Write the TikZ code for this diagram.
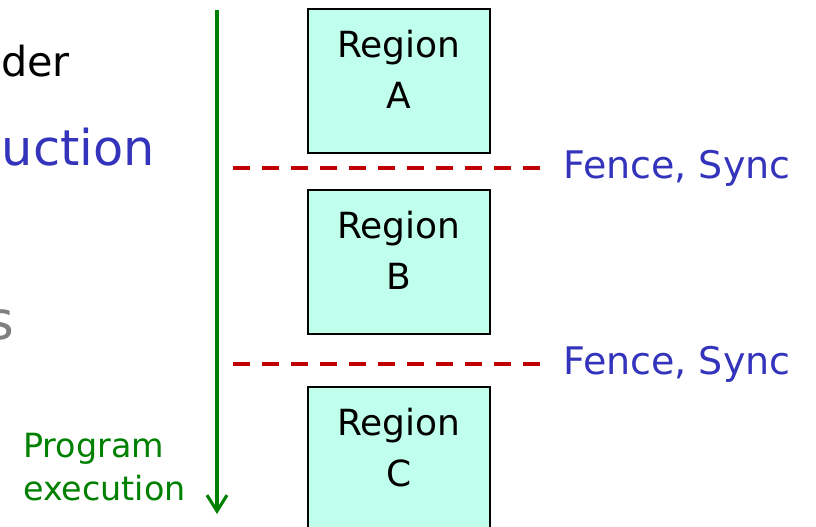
\documentclass[tikz,border=0pt]{standalone}
\usepackage{fontspec}
\setmainfont{DejaVu Sans}
\usetikzlibrary{arrows.meta}
\definecolor{fenceblue}{RGB}{51,51,187}
\definecolor{progreen}{RGB}{0,128,0}
\definecolor{fencered}{RGB}{192,0,0}
\definecolor{regionfill}{RGB}{192,255,236}
\definecolor{dimgray}{RGB}{128,128,128}
\tikzset{
  regionbox/.style={draw=black, line width=1.2pt, fill=regionfill,
    minimum width=136.5pt, minimum height=108pt, inner sep=0pt},
  regiontext/.style={font=\fontsize{27}{38}\selectfont, align=center, inner sep=0pt},
  fenceline/.style={draw=fencered, line width=3.5pt, dash pattern=on 12.75pt off 9pt},
  fencelabel/.style={text=fenceblue, font=\fontsize{28.5}{34}\selectfont, anchor=base west, inner sep=0pt},
  timeline/.style={draw=progreen, line width=2.3pt,
    -{Straight Barb[length=12pt, width=15pt, line width=2.3pt]}},
}
\begin{document}
\begin{tikzpicture}[x=0.75pt, y=-0.75pt]
  \useasboundingbox (0,0) rectangle (816,526);

  % headline fragments on the left
  \node[anchor=base east, inner sep=0pt, font=\fontsize{31}{36}\selectfont] (hl1) at (70,76) {der};
  \node[anchor=base east, inner sep=0pt, text=fenceblue, font=\fontsize{37}{44}\selectfont] (hl2) at (155,165) {uction};
  \node[anchor=base east, inner sep=0pt, text=dimgray, font=\fontsize{40}{46}\selectfont] (hl3) at (15,339) {s};

  % program execution timeline
  \coordinate (tstart) at (217,10);
  \coordinate (tend) at (217,514);
  \draw[timeline] (tstart) -- (tend);
  \node[anchor=base west, inner sep=0pt, text=progreen, align=left,
        font=\fontsize{25}{32.25}\selectfont] (prog) at (23,500) {Program\\execution};

  % parallel regions
  \node[regionbox] (A) at (399,81) {};
  \node[regionbox] (B) at (399,262) {};
  \node[regionbox] (C) at (399,459) {};
  \node[regiontext, anchor=north] (tA) at ([yshift=-22pt*0.75]A.north) {Region\\A};
  \node[regiontext, anchor=north] (tB) at ([yshift=-22pt*0.75]B.north) {Region\\B};
  \node[regiontext, anchor=north] (tC) at ([yshift=-22pt*0.75]C.north) {Region\\C};

  % synchronisation fences
  \node[fencelabel] (f1) at (563,178) {Fence, Sync};
  \node[fencelabel] (f2) at (563,374) {Fence, Sync};
  \coordinate (d1s) at (233,168);
  \coordinate (d1e) at (541,168);
  \coordinate (d2s) at (233,364);
  \coordinate (d2e) at (541,364);
  \draw[fenceline] (d1s) -- (d1e);
  \draw[fenceline] (d2s) -- (d2e);
\end{tikzpicture}
\end{document}
